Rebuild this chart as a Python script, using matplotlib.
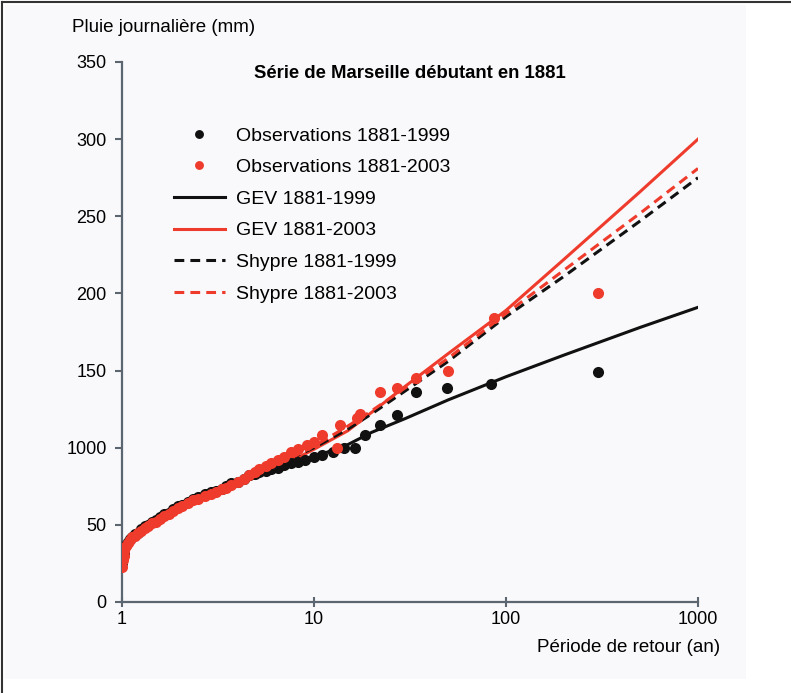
import matplotlib
matplotlib.use("Agg")
import matplotlib.pyplot as plt
from matplotlib.lines import Line2D
from matplotlib.patches import Rectangle

plt.rcParams["font.family"] = ["Liberation Sans", "DejaVu Sans"]

# Observations (plotting position in years, daily rainfall in mm)
obs_T_1999 = [300, 84, 49, 34, 27, 22, 18.4, 16.3, 14.4, 12.5, 11, 10, 9, 8.3, 7.6, 7,
              6.5, 6, 5.6, 5.2, 4.9, 4.6, 4.3, 4.0, 3.7, 3.5, 3.3, 3.1, 2.9, 2.7, 2.5,
              2.35, 2.2, 2.05, 1.95, 1.85, 1.75, 1.65, 1.57, 1.5, 1.43, 1.37, 1.31,
              1.26, 1.21, 1.17, 1.13, 1.1, 1.07, 1.05, 1.03, 1.02, 1.01, 1.005]
obs_y_1999 = [149, 141, 139, 136, 121, 115, 108, 100, 100, 97, 95, 94, 92, 91, 90, 89,
              87, 86, 85, 84, 83, 82, 80, 78, 77, 75, 73, 72, 71, 70, 68,
              67, 65, 63, 62, 60, 58, 57, 55, 53, 52, 50, 49,
              47, 45, 44, 42, 41, 39, 37, 35, 32, 29, 25]

obs_T_2003 = [300, 87, 50, 34, 27, 22, 17.3, 16.7, 13.6, 13.1, 11, 10, 9.2, 8.3, 7.6, 7,
              6.5, 6, 5.6, 5.2, 4.9, 4.6, 4.3, 4.0, 3.7, 3.5, 3.3, 3.1, 2.9, 2.7, 2.5,
              2.35, 2.2, 2.05, 1.95, 1.85, 1.75, 1.65, 1.57, 1.5, 1.43, 1.37, 1.31,
              1.26, 1.21, 1.17, 1.13, 1.1, 1.07, 1.05, 1.03, 1.02, 1.01, 1.005]
obs_y_2003 = [200, 184, 150, 145, 139, 136, 122, 119, 115, 100, 108, 104, 102, 99, 97, 94,
              92, 90, 88, 86, 84, 82, 80, 78, 76, 74, 73, 71, 70, 69, 67,
              66, 64, 62, 61, 59, 57, 56, 54, 52, 51, 49, 48,
              46, 45, 43, 42, 40, 38, 36, 33, 30, 27, 23]

# Fitted curves
fit_T = [1.0, 1.05, 1.2, 1.5, 2, 3, 5, 7, 10, 15, 20, 30, 50, 100, 200, 500, 1000]
gev_1999 = [24, 34, 42, 51, 60, 70, 81, 88, 94, 102, 110, 119, 131, 146, 160, 178, 191]
gev_2003 = [24, 34, 42, 51, 60, 70, 81, 89, 99, 111, 123, 140, 161, 189, 222, 266, 300]
shypre_1999 = [24, 34, 43, 52, 61, 72, 83, 91, 100, 112, 122, 137, 156, 185, 211, 247, 275]
shypre_2003 = [24, 34, 43, 52, 61, 72, 83, 91, 101, 114, 124, 139, 158, 187, 215, 252, 281]

x_ticks = [1, 10, 100, 1000]
x_labels = ["1", "10", "100", "1000"]
y_ticks = [0, 50, 100, 150, 200, 250, 300, 350]
y_labels = ["0", "50", "1000", "150", "200", "250", "300", "350"]

RED = "#ef3b2c"
BLACK = "#111111"
SPINE = "#5b6670"

fig = plt.figure(figsize=(7.91, 6.93), dpi=100)
fig.patch.set_facecolor("white")

# light panel and frame
fig.add_artist(Rectangle((5 / 791, 14 / 693), 741 / 791, 674 / 693,
                         transform=fig.transFigure, facecolor="#f9f9fb",
                         edgecolor="none", zorder=-10))
fig.add_artist(Line2D([0.002, 1], [0.997, 0.997], transform=fig.transFigure,
                      color="#333333", lw=1.5))
fig.add_artist(Line2D([0.002, 0.002], [0, 0.997], transform=fig.transFigure,
                      color="#333333", lw=1.5))

ax = fig.add_axes([122 / 791, 91 / 693, 576 / 791, 540 / 693])
ax.set_facecolor("none")

ax.plot(fit_T, gev_1999, color=BLACK, lw=2.2, label="GEV 1881-1999", zorder=3)
ax.plot(fit_T, gev_2003, color=RED, lw=2.2, label="GEV 1881-2003", zorder=3)
ax.plot(fit_T, shypre_1999, color=BLACK, lw=2.2, dashes=(3.2, 2),
        label="Shypre 1881-1999", zorder=3)
ax.plot(fit_T, shypre_2003, color=RED, lw=2.2, dashes=(3.2, 2),
        label="Shypre 1881-2003", zorder=3)
ax.plot(obs_T_1999, obs_y_1999, "o", color=BLACK, ms=8, mew=0,
        label="Observations 1881-1999", zorder=4)
ax.plot(obs_T_2003, obs_y_2003, "o", color=RED, ms=8, mew=0,
        label="Observations 1881-2003", zorder=5)

ax.set_xscale("log")
ax.set_xlim(1, 1000)
ax.set_ylim(0, 350)
ax.set_xticks(x_ticks)
ax.set_xticklabels(x_labels)
ax.xaxis.set_minor_locator(plt.NullLocator())
ax.set_yticks(y_ticks)
ax.set_yticklabels(y_labels)

for side in ["top", "right"]:
    ax.spines[side].set_visible(False)
for side in ["left", "bottom"]:
    ax.spines[side].set_color(SPINE)
    ax.spines[side].set_linewidth(1.6)
ax.tick_params(axis="y", direction="out", length=5, width=1.5, color=SPINE,
               labelsize=13, pad=6)
ax.tick_params(axis="x", direction="inout", length=7, width=1.5, color=SPINE,
               labelsize=13, pad=3)

ax.set_title("Série de Marseille débutant en 1881", fontsize=13.3,
             fontweight="bold", y=0.955)

handles, labels = ax.get_legend_handles_labels()
order = [4, 5, 0, 1, 2, 3]
ax.legend([handles[i] for i in order], [labels[i] for i in order],
          loc="upper left", bbox_to_anchor=(0.06, 0.912), frameon=False,
          fontsize=14, handlelength=2.6, labelspacing=0.72, handletextpad=0.6,
          markerscale=0.8)

fig.text(72 / 791, 1 - 28 / 693, "Pluie journalière (mm)", fontsize=13.5,
         va="center", ha="left")
fig.text(720 / 791, 1 - 648 / 693, "Période de retour (an)", fontsize=13.5,
         va="center", ha="right")

fig.savefig("out.png", dpi=100)
